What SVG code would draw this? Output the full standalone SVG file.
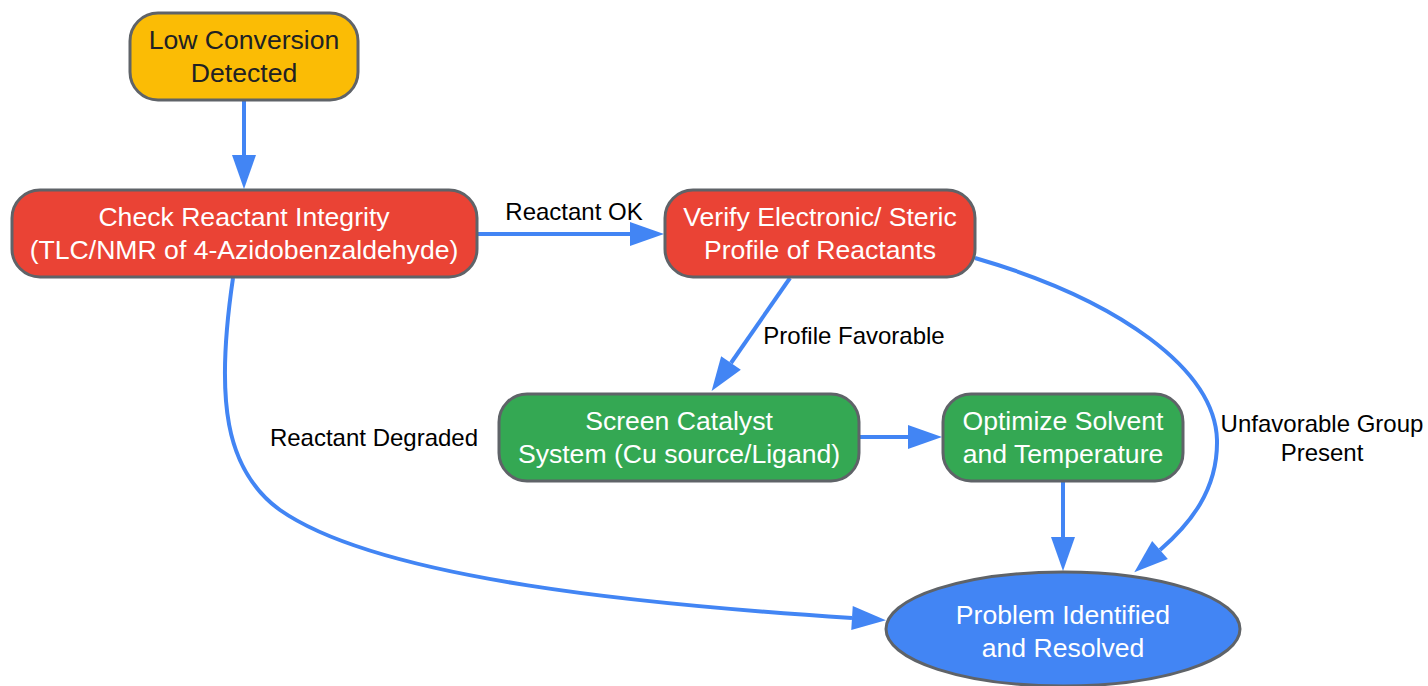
<svg xmlns="http://www.w3.org/2000/svg" width="1428" height="686" viewBox="0 0 1428 686">
<style>
.node{stroke:#5f6368;stroke-width:3}
.nt{font-family:"Liberation Sans",Arial,sans-serif;font-size:26.6px;text-anchor:middle;fill:#ffffff}
.lbl{font-family:"Liberation Sans",Arial,sans-serif;font-size:24px;text-anchor:middle;fill:#000000}
.edge{fill:none;stroke:#4285f4;stroke-width:4;marker-end:url(#arr)}
</style>
<defs>
<marker id="arr" markerUnits="userSpaceOnUse" markerWidth="34" markerHeight="24" refX="0" refY="12" orient="auto" overflow="visible">
<path d="M0,0 L34,12 L0,24 z" fill="#4285f4"/>
</marker>
</defs>
<rect width="1428" height="686" fill="#ffffff"/>
<g id="edges">
<path class="edge" d="M244,101 L244,155"/>
<path class="edge" d="M478,234 L630,234"/>
<path class="edge" d="M790,278 L731,363"/>
<path class="edge" d="M860,437 L908,437"/>
<path class="edge" d="M1063,482 L1063,537"/>
<path class="edge" d="M975,258 C1120,300 1215,370 1217,440 C1218,490 1190,524 1160,550"/>
<path class="edge" d="M233,278 C215,400 225,470 280,510 C380,580 650,605 852,618"/>
<text class="lbl" x="574" y="220">Reactant OK</text>
<text class="lbl" x="854" y="344">Profile Favorable</text>
<text class="lbl" x="374" y="446">Reactant Degraded</text>
<text class="lbl" x="1322" y="432">Unfavorable Group</text>
<text class="lbl" x="1322" y="461">Present</text>
</g>
<g id="low">
<rect class="node" x="130" y="13" width="228" height="87" rx="28" fill="#fbbc05"/>
<text class="nt" x="244" y="49" style="fill:#202124">Low Conversion</text>
<text class="nt" x="244" y="82" style="fill:#202124">Detected</text>
</g>
<g id="check">
<rect class="node" x="12" y="190" width="465" height="87" rx="28" fill="#ea4335"/>
<text class="nt" x="244" y="226">Check Reactant Integrity</text>
<text class="nt" x="244" y="259">(TLC/NMR of 4-Azidobenzaldehyde)</text>
</g>
<g id="verify">
<rect class="node" x="665" y="190" width="310" height="87" rx="28" fill="#ea4335"/>
<text class="nt" x="820" y="226">Verify Electronic/ Steric</text>
<text class="nt" x="820" y="259">Profile of Reactants</text>
</g>
<g id="screen">
<rect class="node" x="499" y="394" width="360" height="87" rx="28" fill="#34a853"/>
<text class="nt" x="679" y="430">Screen Catalyst</text>
<text class="nt" x="679" y="463">System (Cu source/Ligand)</text>
</g>
<g id="optimize">
<rect class="node" x="943" y="394" width="240" height="87" rx="28" fill="#34a853"/>
<text class="nt" x="1063" y="430">Optimize Solvent</text>
<text class="nt" x="1063" y="463">and Temperature</text>
</g>
<g id="problem">
<ellipse class="node" cx="1063" cy="629" rx="177" ry="57" fill="#4285f4"/>
<text class="nt" x="1063" y="624">Problem Identified</text>
<text class="nt" x="1063" y="657">and Resolved</text>
</g>
</svg>
